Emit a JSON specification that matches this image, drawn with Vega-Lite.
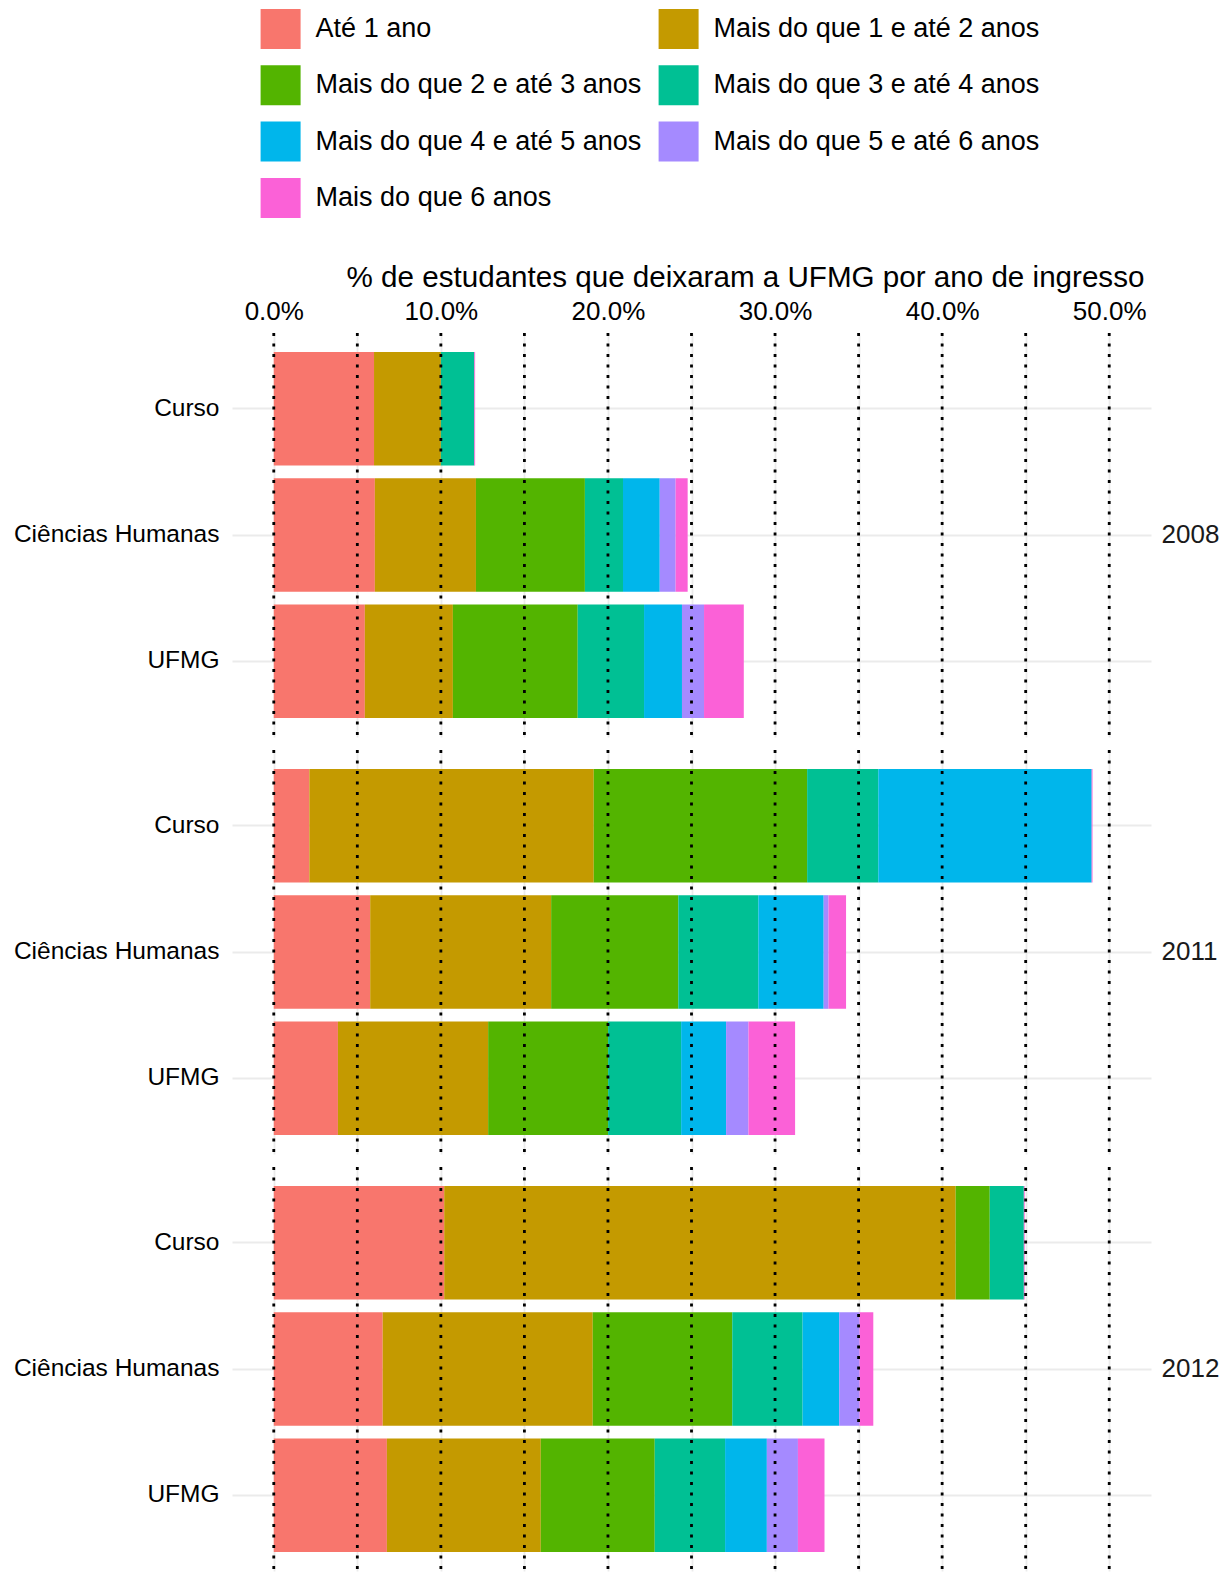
{
  "$schema": "https://vega.github.io/schema/vega-lite/v6.json",
  "background": "white",
  "padding": {"left": 13, "top": 9, "right": 2, "bottom": 0},
  "config": {
    "font": "Liberation Sans",
    "view": {"stroke": null},
    "axis": {"labelFont": "Liberation Sans", "titleFont": "Liberation Sans"},
    "legend": {"labelFont": "Liberation Sans"}
  },
  "data": {
    "values": [
      {"ano": "2008", "categoria": "Curso", "tempo": "Até 1 ano", "pct": 6.0},
      {"ano": "2008", "categoria": "Curso", "tempo": "Mais do que 1 e até 2 anos", "pct": 4.0},
      {"ano": "2008", "categoria": "Curso", "tempo": "Mais do que 3 e até 4 anos", "pct": 2.0},
      {"ano": "2008", "categoria": "Curso", "tempo": "Mais do que 6 anos", "pct": 0.05},
      {"ano": "2008", "categoria": "Ciências Humanas", "tempo": "Até 1 ano", "pct": 6.05},
      {"ano": "2008", "categoria": "Ciências Humanas", "tempo": "Mais do que 1 e até 2 anos", "pct": 6.05},
      {"ano": "2008", "categoria": "Ciências Humanas", "tempo": "Mais do que 2 e até 3 anos", "pct": 6.52},
      {"ano": "2008", "categoria": "Ciências Humanas", "tempo": "Mais do que 3 e até 4 anos", "pct": 2.28},
      {"ano": "2008", "categoria": "Ciências Humanas", "tempo": "Mais do que 4 e até 5 anos", "pct": 2.2},
      {"ano": "2008", "categoria": "Ciências Humanas", "tempo": "Mais do que 5 e até 6 anos", "pct": 0.95},
      {"ano": "2008", "categoria": "Ciências Humanas", "tempo": "Mais do que 6 anos", "pct": 0.72},
      {"ano": "2008", "categoria": "UFMG", "tempo": "Até 1 ano", "pct": 5.45},
      {"ano": "2008", "categoria": "UFMG", "tempo": "Mais do que 1 e até 2 anos", "pct": 5.27},
      {"ano": "2008", "categoria": "UFMG", "tempo": "Mais do que 2 e até 3 anos", "pct": 7.47},
      {"ano": "2008", "categoria": "UFMG", "tempo": "Mais do que 3 e até 4 anos", "pct": 3.97},
      {"ano": "2008", "categoria": "UFMG", "tempo": "Mais do que 4 e até 5 anos", "pct": 2.27},
      {"ano": "2008", "categoria": "UFMG", "tempo": "Mais do que 5 e até 6 anos", "pct": 1.32},
      {"ano": "2008", "categoria": "UFMG", "tempo": "Mais do que 6 anos", "pct": 2.38},
      {"ano": "2011", "categoria": "Curso", "tempo": "Até 1 ano", "pct": 2.13},
      {"ano": "2011", "categoria": "Curso", "tempo": "Mais do que 1 e até 2 anos", "pct": 17.02},
      {"ano": "2011", "categoria": "Curso", "tempo": "Mais do que 2 e até 3 anos", "pct": 12.77},
      {"ano": "2011", "categoria": "Curso", "tempo": "Mais do que 3 e até 4 anos", "pct": 4.26},
      {"ano": "2011", "categoria": "Curso", "tempo": "Mais do que 4 e até 5 anos", "pct": 12.77},
      {"ano": "2011", "categoria": "Curso", "tempo": "Mais do que 6 anos", "pct": 0.05},
      {"ano": "2011", "categoria": "Ciências Humanas", "tempo": "Até 1 ano", "pct": 5.77},
      {"ano": "2011", "categoria": "Ciências Humanas", "tempo": "Mais do que 1 e até 2 anos", "pct": 10.83},
      {"ano": "2011", "categoria": "Ciências Humanas", "tempo": "Mais do que 2 e até 3 anos", "pct": 7.61},
      {"ano": "2011", "categoria": "Ciências Humanas", "tempo": "Mais do que 3 e até 4 anos", "pct": 4.79},
      {"ano": "2011", "categoria": "Ciências Humanas", "tempo": "Mais do que 4 e até 5 anos", "pct": 3.91},
      {"ano": "2011", "categoria": "Ciências Humanas", "tempo": "Mais do que 5 e até 6 anos", "pct": 0.29},
      {"ano": "2011", "categoria": "Ciências Humanas", "tempo": "Mais do que 6 anos", "pct": 1.05},
      {"ano": "2011", "categoria": "UFMG", "tempo": "Até 1 ano", "pct": 3.84},
      {"ano": "2011", "categoria": "UFMG", "tempo": "Mais do que 1 e até 2 anos", "pct": 8.99},
      {"ano": "2011", "categoria": "UFMG", "tempo": "Mais do que 2 e até 3 anos", "pct": 7.18},
      {"ano": "2011", "categoria": "UFMG", "tempo": "Mais do que 3 e até 4 anos", "pct": 4.37},
      {"ano": "2011", "categoria": "UFMG", "tempo": "Mais do que 4 e até 5 anos", "pct": 2.69},
      {"ano": "2011", "categoria": "UFMG", "tempo": "Mais do que 5 e até 6 anos", "pct": 1.34},
      {"ano": "2011", "categoria": "UFMG", "tempo": "Mais do que 6 anos", "pct": 2.79},
      {"ano": "2012", "categoria": "Curso", "tempo": "Até 1 ano", "pct": 10.2},
      {"ano": "2012", "categoria": "Curso", "tempo": "Mais do que 1 e até 2 anos", "pct": 30.61},
      {"ano": "2012", "categoria": "Curso", "tempo": "Mais do que 2 e até 3 anos", "pct": 2.04},
      {"ano": "2012", "categoria": "Curso", "tempo": "Mais do que 3 e até 4 anos", "pct": 2.04},
      {"ano": "2012", "categoria": "Curso", "tempo": "Mais do que 6 anos", "pct": 0.05},
      {"ano": "2012", "categoria": "Ciências Humanas", "tempo": "Até 1 ano", "pct": 6.52},
      {"ano": "2012", "categoria": "Ciências Humanas", "tempo": "Mais do que 1 e até 2 anos", "pct": 12.57},
      {"ano": "2012", "categoria": "Ciências Humanas", "tempo": "Mais do que 2 e até 3 anos", "pct": 8.35},
      {"ano": "2012", "categoria": "Ciências Humanas", "tempo": "Mais do que 3 e até 4 anos", "pct": 4.21},
      {"ano": "2012", "categoria": "Ciências Humanas", "tempo": "Mais do que 4 e até 5 anos", "pct": 2.19},
      {"ano": "2012", "categoria": "Ciências Humanas", "tempo": "Mais do que 5 e até 6 anos", "pct": 1.22},
      {"ano": "2012", "categoria": "Ciências Humanas", "tempo": "Mais do que 6 anos", "pct": 0.82},
      {"ano": "2012", "categoria": "UFMG", "tempo": "Até 1 ano", "pct": 6.77},
      {"ano": "2012", "categoria": "UFMG", "tempo": "Mais do que 1 e até 2 anos", "pct": 9.21},
      {"ano": "2012", "categoria": "UFMG", "tempo": "Mais do que 2 e até 3 anos", "pct": 6.82},
      {"ano": "2012", "categoria": "UFMG", "tempo": "Mais do que 3 e até 4 anos", "pct": 4.21},
      {"ano": "2012", "categoria": "UFMG", "tempo": "Mais do que 4 e até 5 anos", "pct": 2.5},
      {"ano": "2012", "categoria": "UFMG", "tempo": "Mais do que 5 e até 6 anos", "pct": 1.86},
      {"ano": "2012", "categoria": "UFMG", "tempo": "Mais do que 6 anos", "pct": 1.59},
      {"ano": "2008", "pct": 0}, {"ano": "2008", "pct": 5}, {"ano": "2008", "pct": 10}, {"ano": "2008", "pct": 15},
      {"ano": "2008", "pct": 20}, {"ano": "2008", "pct": 25}, {"ano": "2008", "pct": 30}, {"ano": "2008", "pct": 35},
      {"ano": "2008", "pct": 40}, {"ano": "2008", "pct": 45}, {"ano": "2008", "pct": 50},
      {"ano": "2011", "pct": 0}, {"ano": "2011", "pct": 5}, {"ano": "2011", "pct": 10}, {"ano": "2011", "pct": 15},
      {"ano": "2011", "pct": 20}, {"ano": "2011", "pct": 25}, {"ano": "2011", "pct": 30}, {"ano": "2011", "pct": 35},
      {"ano": "2011", "pct": 40}, {"ano": "2011", "pct": 45}, {"ano": "2011", "pct": 50},
      {"ano": "2012", "pct": 0}, {"ano": "2012", "pct": 5}, {"ano": "2012", "pct": 10}, {"ano": "2012", "pct": 15},
      {"ano": "2012", "pct": 20}, {"ano": "2012", "pct": 25}, {"ano": "2012", "pct": 30}, {"ano": "2012", "pct": 35},
      {"ano": "2012", "pct": 40}, {"ano": "2012", "pct": 45}, {"ano": "2012", "pct": 50}
    ]
  },
  "facet": {
    "row": {
      "field": "ano",
      "type": "nominal",
      "title": null,
      "header": {
        "labelOrient": "right",
        "labelAngle": 0,
        "labelAlign": "right",
        "labelBaseline": "middle",
        "labelPadding": 10.5,
        "labelFontSize": 26,
        "labelFont": "Liberation Sans",
        "labelColor": "#1a1a1a",
        "labelLimit": 0
      }
    }
  },
  "spacing": {"row": 9},
  "spec": {
    "width": 919,
    "height": 404,
    "layer": [
      {
        "transform": [{"filter": "isValid(datum.tempo)"}],
        "mark": {"type": "bar", "strokeWidth": 0},
        "encoding": {
          "y": {
            "field": "categoria",
            "type": "nominal",
            "sort": ["Curso", "Ciências Humanas", "UFMG"],
            "scale": {"paddingInner": 0.1, "paddingOuter": 0.15},
            "axis": {
              "title": null,
              "domain": false,
              "ticks": false,
              "labelPadding": 13,
              "labelFontSize": 24.5,
              "labelLimit": 0,
              "labelColor": "#000000",
              "grid": true,
              "bandPosition": 0.5,
              "gridColor": "#EBEBEB",
              "gridWidth": 1.8
            }
          },
          "x": {
            "field": "pct",
            "type": "quantitative",
            "stack": "zero",
            "scale": {"domain": [-2.5, 52.5], "nice": false, "zero": false},
            "axis": {
              "orient": "top",
              "title": "% de estudantes que deixaram a UFMG por ano de ingresso",
              "titleFontSize": 29.6,
              "titleFontWeight": "normal",
              "titleColor": "#000000",
              "titleX": 513,
              "titleY": -44.7,
              "titleAlign": "center",
              "titleBaseline": "alphabetic",
              "titleLimit": 0,
              "values": [0, 5, 10, 15, 20, 25, 30, 35, 40, 45, 50],
              "labelExpr": "datum.value % 10 == 0 ? format(datum.value, '.1f') + '%' : ''",
              "labelFontSize": 26,
              "labelColor": "#000000",
              "labelBaseline": "alphabetic",
              "labelPadding": 11.3,
              "labelFlush": false,
              "labelOverlap": false,
              "labelBound": false,
              "domain": false,
              "ticks": false,
              "grid": true,
              "gridColor": "#EBEBEB",
              "gridWidth": 1.8
            }
          },
          "color": {
            "field": "tempo",
            "type": "nominal",
            "scale": {
              "domain": ["Até 1 ano", "Mais do que 1 e até 2 anos", "Mais do que 2 e até 3 anos", "Mais do que 3 e até 4 anos", "Mais do que 4 e até 5 anos", "Mais do que 5 e até 6 anos", "Mais do que 6 anos"],
              "range": ["#F8766D", "#C49A00", "#53B400", "#00C094", "#00B6EB", "#A58AFF", "#FB61D7"]
            },
            "legend": {
              "title": null,
              "orient": "none",
              "legendX": 28.6,
              "legendY": -324,
              "columns": 2,
              "direction": "horizontal",
              "symbolType": "square",
              "symbolSize": 1600,
              "symbolStrokeWidth": 0,
              "symbolOpacity": 1,
              "labelFontSize": 27,
              "labelColor": "#000000",
              "labelOffset": 15,
              "labelBaseline": "middle",
              "labelLimit": 0,
              "columnPadding": 17,
              "rowPadding": 16.3,
              "padding": 0,
              "offset": 0
            }
          }
        }
      },
      {
        "transform": [{"filter": "!isValid(datum.tempo)"}],
        "mark": {"type": "rule", "color": "#000000", "strokeWidth": 2.8, "strokeDash": [3, 7.5]},
        "encoding": {
          "x": {"field": "pct", "type": "quantitative"}
        }
      }
    ]
  }
}
